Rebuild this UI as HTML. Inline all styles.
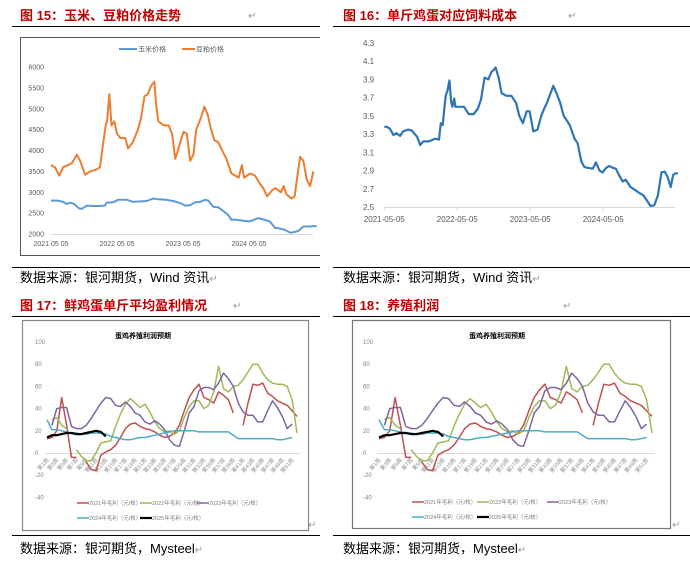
<!DOCTYPE html>
<html><head><meta charset="utf-8">
<style>
html,body{margin:0;padding:0;background:#fff;width:690px;height:570px;overflow:hidden}
svg{display:block;font-family:"Liberation Sans","Noto Sans CJK SC",sans-serif}
</style></head>
<body>
<svg id="page" width="690" height="570" viewBox="0 0 690 570" xmlns="http://www.w3.org/2000/svg">
<g font-weight="bold" font-size="13" fill="#c00000">
<text x="20" y="20">图 15：玉米、豆粕价格走势</text>
<text x="343" y="20">图 16：单斤鸡蛋对应饲料成本</text>
<text x="20" y="310">图 17：鲜鸡蛋单斤平均盈利情况</text>
<text x="343" y="310">图 18：养殖利润</text>
</g>
<g stroke="#000" stroke-width="1">
<line x1="12" y1="26.5" x2="320" y2="26.5"/><line x1="333" y1="26.5" x2="690" y2="26.5"/>
<line x1="12" y1="267.5" x2="320" y2="267.5"/><line x1="333" y1="267.5" x2="690" y2="267.5"/>
<line x1="12" y1="316.5" x2="320" y2="316.5"/><line x1="333" y1="316.5" x2="690" y2="316.5"/>
<line x1="12" y1="535.5" x2="320" y2="535.5"/><line x1="333" y1="535.5" x2="690" y2="535.5"/>
</g>
<g font-size="13" fill="#000">
<text x="20" y="282">数据来源：银河期货，Wind 资讯<tspan fill="#999" font-size="10">↵</tspan></text>
<text x="343" y="282">数据来源：银河期货，Wind 资讯<tspan fill="#999" font-size="10">↵</tspan></text>
<text x="20" y="553">数据来源：银河期货，Mysteel<tspan fill="#999" font-size="10">↵</tspan></text>
<text x="343" y="553">数据来源：银河期货，Mysteel<tspan fill="#999" font-size="10">↵</tspan></text>
</g>
<g fill="#999" font-size="10">
<text x="248" y="19">↵</text><text x="568" y="19">↵</text><text x="233" y="309">↵</text><text x="563" y="309">↵</text>
<text x="308" y="528">↵</text><text x="672" y="528">↵</text>
</g>
<rect x="20.5" y="37.5" width="310" height="218" fill="none" stroke="#555" stroke-width="1"/>
<rect x="22.5" y="320.5" width="286" height="210" fill="none" stroke="#888" stroke-width="1.2"/>
<rect x="352.5" y="320.5" width="318" height="208" fill="none" stroke="#777" stroke-width="1.2"/>
<rect x="320" y="36" width="12" height="222" fill="#fff"/>
<g id="charts"></g>
</svg>
<script>
// ---------- Fig 15 data (t = months since 2021-05-05) ----------
const mealT=[0,0.7,1.5,2.2,3.1,3.8,4.7,5.3,6.2,7.1,8.3,8.9,9.5,10,10.2,10.6,11,11.5,12,12.6,13.5,14,14.9,15.8,16.4,17,17.6,18.2,18.8,19.1,19.5,20.5,21.4,22,22.6,23.5,24.1,24.7,25.3,25.9,26.4,27.3,27.9,28.5,29.1,29.7,30.4,31.3,31.9,32.8,33.5,34.1,34.7,35.1,36.2,37.1,38,38.6,39.3,40.2,40.8,41.8,42.3,42.8,43.7,44.3,44.6,45.3,45.9,46.5,47.1,47.7];
const mealV=[3650,3600,3400,3600,3650,3700,3900,3750,3420,3500,3550,3600,4200,4650,4700,5350,4600,4700,4400,4300,4300,4050,4200,4500,4800,5300,5350,5550,5650,5100,4700,4600,4600,4400,3800,4200,4450,4400,3750,3900,4500,4800,5050,4850,4500,4250,4200,3950,3800,3450,3400,3350,3650,3350,3450,3400,3200,3100,2900,3050,3100,3000,3150,2950,2850,2900,3200,3850,3750,3300,3150,3500];
const cornT=[0,1.3,2.2,2.8,3.7,4.4,5,5.6,6.5,7.7,8.9,9.8,10.1,11.3,12.2,13.8,15,16.2,17.4,18.6,19.5,21,22.2,23.5,24.4,25.3,26.2,27.1,28,28.6,29.5,30.4,31.3,32.2,32.8,33.7,34.8,36,36.9,37.7,38.6,39.8,40.7,41.3,42.5,43.5,44.4,45,45.9,47.1,47.7,48.3];
const cornV=[2800,2800,2770,2720,2750,2700,2620,2600,2680,2670,2670,2680,2750,2760,2820,2820,2770,2780,2790,2850,2830,2820,2790,2740,2680,2690,2760,2770,2820,2800,2650,2640,2550,2460,2340,2340,2320,2300,2340,2380,2350,2300,2150,2140,2100,2030,2050,2080,2180,2180,2190,2190];
const f15Ticks=[2000,2500,3000,3500,4000,4500,5000,5500,6000];
const f15XTicks=["2021-05-05","2022-05-05","2023-05-05","2024-05-05"];
// ---------- Fig 16 data ----------
const feedT=[0,0.4,0.9,1.5,2,2.6,3.1,3.9,4.5,5.4,5.9,6.4,7.3,8.4,9,9.3,9.6,9.9,10.1,10.4,10.7,11,11.2,11.5,11.7,12.2,13.1,13.9,14.7,15.4,15.9,16.5,17.1,17.6,18.3,18.8,19.3,20.1,20.9,21.7,22.2,22.8,23.4,23.9,24.5,25.2,25.8,26.3,26.8,27.8,28.3,28.9,29.5,30,30.5,31.3,31.8,32.4,32.9,33.4,34.3,34.8,35.4,35.9,36.5,37,37.6,38.1,38.6,39.2,39.7,40.5,41.4,41.8,42.6,43.2,43.8,44.4,45,45.6,46.1,46.6,47.1,47.5,47.9,48.3];
const feedV=[3.38,3.38,3.36,3.29,3.31,3.28,3.33,3.35,3.34,3.27,3.18,3.22,3.22,3.25,3.24,3.42,3.40,3.6,3.72,3.78,3.89,3.65,3.6,3.69,3.6,3.6,3.6,3.52,3.52,3.58,3.68,3.92,3.9,3.98,4.03,3.92,3.75,3.72,3.72,3.64,3.5,3.42,3.55,3.55,3.33,3.35,3.5,3.58,3.65,3.83,3.75,3.65,3.5,3.45,3.4,3.25,3.2,3.0,2.94,2.93,2.92,2.99,2.9,2.88,2.93,2.95,2.93,2.92,2.85,2.78,2.8,2.72,2.68,2.66,2.63,2.57,2.51,2.52,2.63,2.88,2.89,2.83,2.72,2.85,2.87,2.87];
const f16Ticks=[2.5,2.7,2.9,3.1,3.3,3.5,3.7,3.9,4.1,4.3];
const f16XTicks=["2021-05-05","2022-05-05","2023-05-05","2024-05-05"];
// ---------- Egg profit data (weeks 1..52) ----------
const weeks=Array.from({length:52},(_,i)=>"第"+(i+1)+"周");
const p2021=[13,14,20,50,25,-4,-4,null,-8,-15,-16,-2,1,3,7,14,22,26,27,24,22,21,19,16,14,15,18,25,38,50,57,62,50,48,45,55,52,48,36,null,25,45,62,61,63,54,51,47,45,43,38,33];
const p2022=[null,30,32,25,22,null,3,-3,-7,-7,0,9,10,11,24,35,44,49,45,41,44,37,28,22,19,20,17,20,32,42,47,47,40,43,55,78,58,55,60,61,66,73,80,80,72,66,63,62,62,60,48,18];
const p2023=[null,25,40,41,41,24,22,22,25,31,38,45,50,49,43,42,46,42,36,34,28,26,29,26,21,12,7,6,20,36,42,56,59,59,57,63,72,67,60,45,37,34,34,28,28,38,47,41,33,22,26,null];
const p2024=[30,21,21,20,19,18,18,17,17,18,18,18,17,15,14,13,12,12,13,14,14,15,16,17,18,19,20,20,20,20,20,19,19,19,19,19,19,19,16,13,13,13,13,13,13,13,13,12,12,13,14,null];
const p2025=[14,16,16,17,18,18,17,17,18,19,20,19,15];
const eggTicks=[-40,-20,0,20,40,60,80,100];
const eggNames=["2021年毛利（元/枚）","2022年毛利（元/枚）","2023年毛利（元/枚）","2024年毛利（元/枚）","2025年毛利（元/枚）"];

const NS="http://www.w3.org/2000/svg";
const root=document.getElementById('charts');
function mk(tag,attrs,parent,txt){const e=document.createElementNS(NS,tag);for(const k in attrs)e.setAttribute(k,attrs[k]);if(txt!==undefined)e.textContent=txt;(parent||root).appendChild(e);return e;}
function pathFrom(xs,ys){let d="",pen=false;for(let i=0;i<xs.length;i++){if(ys[i]===null||ys[i]===undefined){pen=false;continue;}d+=(pen?"L":"M")+xs[i].toFixed(1)+","+ys[i].toFixed(1);pen=true;}return d;}

// ---- Fig 15 ----
(function(){
  const g=mk('g',{});
  
  
  const x=t=>51+t*5.5, y=v=>234-(v-2000)*(167/4000);
  f15Ticks.forEach(v=>{const t=mk('text',{x:44,y:y(v)+2.5,'font-size':7,fill:'#595959','text-anchor':'end'},g,String(v));
    
    });
  mk('line',{x1:51,y1:234.5,x2:313,y2:234.5,stroke:'#d9d9d9'},g);
  f15XTicks.forEach((s,i)=>{const t=mk('text',{x:x(i*12),y:246,'font-size':7,fill:'#595959','text-anchor':'middle'},g,s.replace('-',' ').replace('-',' '));
    
    });
  const m=mk('path',{d:pathFrom(mealT.map(x),mealV.map(y)),fill:'none',stroke:'#ed7d31','stroke-width':2,'stroke-linejoin':'round'},g);
  
  
  const c=mk('path',{d:pathFrom(cornT.map(x),cornV.map(y)),fill:'none',stroke:'#5b9bd5','stroke-width':2,'stroke-linejoin':'round'},g);
  
  
  const l1=mk('g',{},g);
  
  
  mk('line',{x1:119,y1:49,x2:137,y2:49,stroke:'#5b9bd5','stroke-width':2},l1);
  mk('text',{x:138,y:51.5,'font-size':7,fill:'#595959'},l1,'玉米价格');
  const l2=mk('g',{},g);
  
  
  mk('line',{x1:182,y1:49,x2:195,y2:49,stroke:'#ed7d31','stroke-width':2},l2);
  mk('text',{x:196,y:51.5,'font-size':7,fill:'#595959'},l2,'豆粕价格');
})();

// ---- Fig 16 ----
(function(){
  const g=mk('g',{});
  
  
  const x=t=>384.3+t*6.08, y=v=>207-(v-2.5)*(164/1.8);
  f16Ticks.forEach(v=>{const t=mk('text',{x:363,y:y(v)+3,'font-size':8,fill:'#595959'},g,v.toFixed(1));
    
    });
  mk('line',{x1:384,y1:207.5,x2:675,y2:207.5,stroke:'#d9d9d9'},g);
  f16XTicks.forEach((s,i)=>{mk('line',{x1:x(i*12),y1:207,x2:x(i*12),y2:211,stroke:'#d9d9d9'},g);
    const t=mk('text',{x:x(i*12),y:222,'font-size':8,fill:'#595959','text-anchor':'middle'},g,s);
    
    });
  const p=mk('path',{d:pathFrom(feedT.map(x),feedV.map(y)),fill:'none',stroke:'#2e75b6','stroke-width':2.2,'stroke-linejoin':'round'},g);
  
  
})();

// ---- Egg profit charts ----
const colors=['#c0504d','#9bbb59','#8064a2','#4bacc6','#000000'];
const series=[p2021,p2022,p2023,p2024,p2025];
function eggChart(name,x0,x1,ylab,titleX,legX,legY){
  const g=mk('g',{});
  
  
  const step=(x1-x0)/(weeks.length-1);
  const x=i=>x0+i*step, y=v=>453-v*(111/100);
  const tt=mk('text',{x:titleX,y:338,'font-size':7,'font-weight':'bold',fill:'#000','text-anchor':'middle'},g,'蛋鸡养殖利润预期');
  
  
  eggTicks.forEach(v=>{const t=mk('text',{x:ylab,y:y(v)+2,'font-size':6,fill:'#7f7f7f'},g,String(v));
    
    });
  mk('line',{x1:x0-2,y1:453.5,x2:x1+3,y2:453.5,stroke:'#d9d9d9'},g);
  weeks.forEach((w,i)=>{if(i%2)return;const cx=x(i)+2,cy=460;
    const t=mk('text',{x:cx,y:cy,'font-size':5.5,fill:'#8c8c8c','text-anchor':'end',transform:`rotate(-50 ${cx} ${cy})`},g,w);
    
    });
  series.forEach((s,k)=>{const p=mk('path',{d:pathFrom(s.map((_,i)=>x(i)),s.map(v=>v===null?null:y(v))),fill:'none',stroke:colors[k],'stroke-width':k===4?2.2:1.5,'stroke-linejoin':'round'},g);
    
    });
  const lp=[[legX[0],legY[0]],[legX[1],legY[0]],[legX[2],legY[0]],[legX[0],legY[1]],[legX[1],legY[1]]];
  eggNames.forEach((n,k)=>{const lg=mk('g',{},g);
    
    
    mk('line',{x1:lp[k][0],y1:lp[k][1],x2:lp[k][0]+12,y2:lp[k][1],stroke:colors[k],'stroke-width':k===4?2.2:1.5},lg);
    mk('text',{x:lp[k][0]+12,y:lp[k][1]+2,'font-size':5.5,fill:'#7f7f7f'},lg,n);});
}
eggChart('fig17-chart',47,297,35,143,[77,140,197],[503,518]);
eggChart('fig18-chart',379,652,363,497,[412,477,547],[502,517]);
</script>
</body></html>
